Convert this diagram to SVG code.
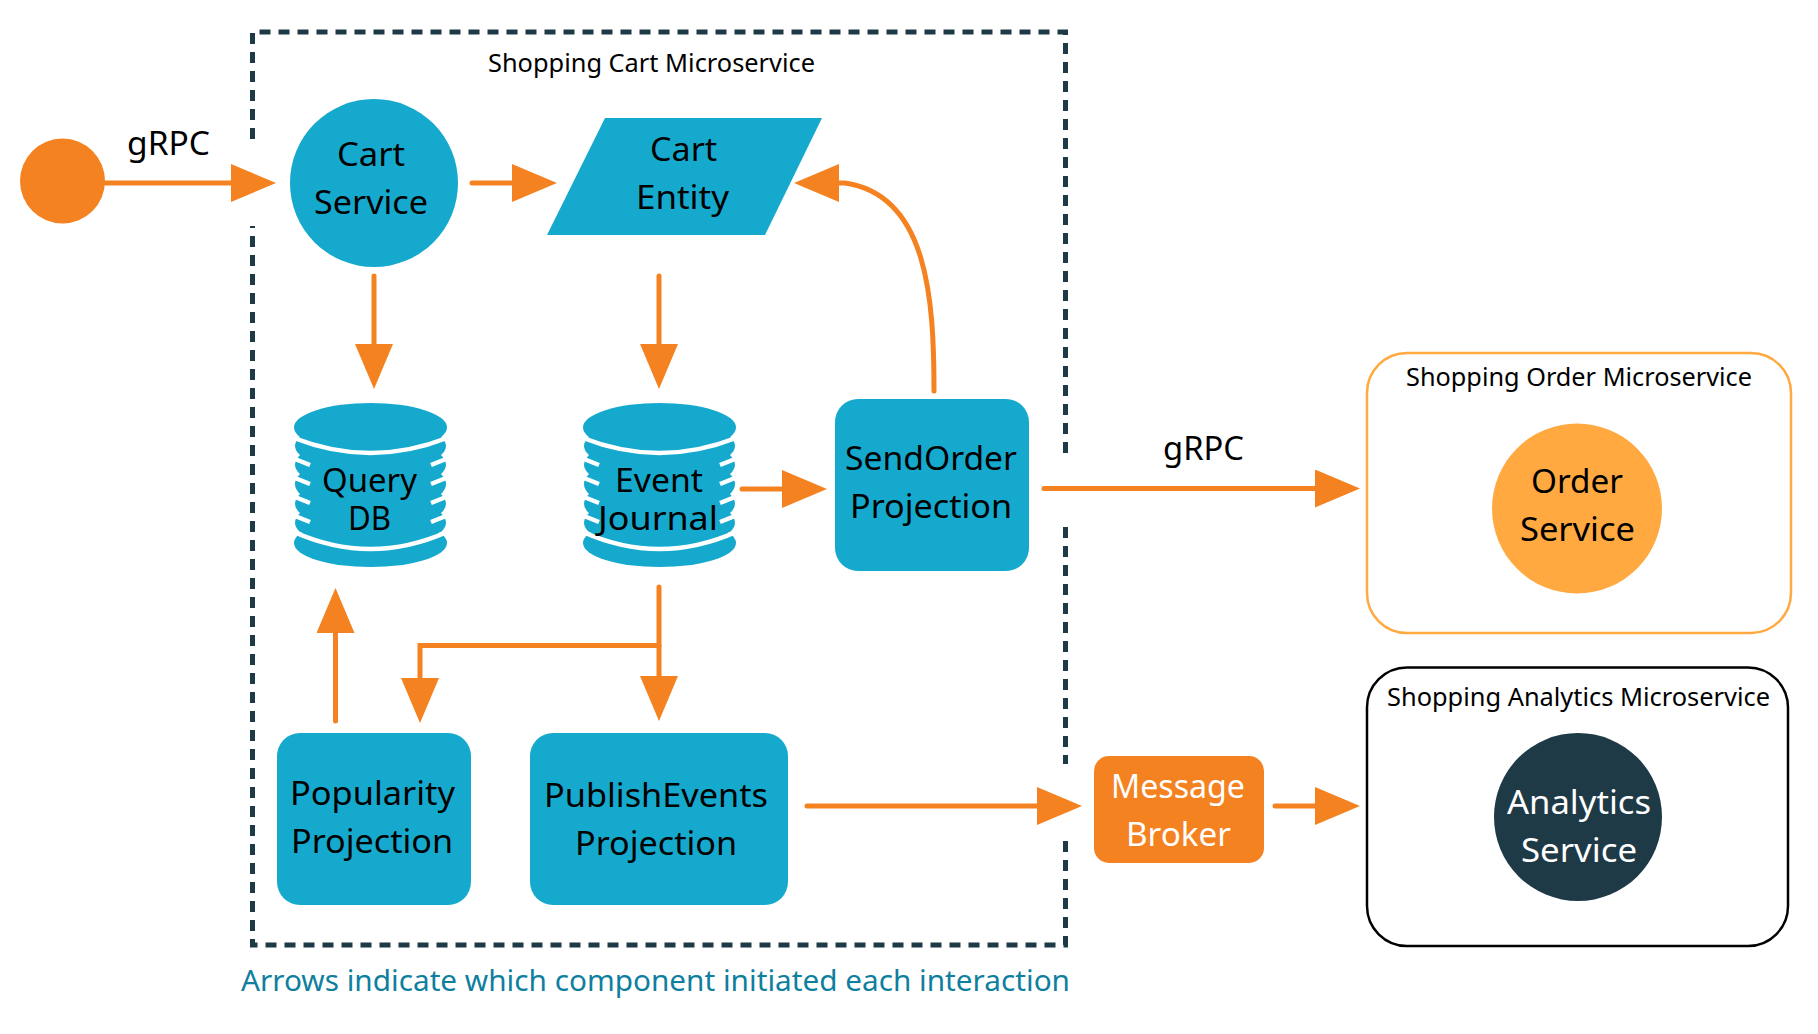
<svg xmlns="http://www.w3.org/2000/svg" width="1818" height="1034" viewBox="0 0 1818 1034">
<style>
text{font-family:"Noto Sans","Open Sans","Liberation Sans",sans-serif;fill:#000}
.l{font-size:33px}
.s{font-size:25px}
.w{fill:#fff}
.n{fill:#16a9ce}
.c{fill:none;stroke:#f58220;stroke-width:5;stroke-linecap:round}
.d{fill:none;stroke:#1f3a47;stroke-width:5;stroke-dasharray:11 8}
.t{fill:none;stroke:#fff;stroke-width:4.500}
</style>
<defs>
<marker id="a" markerUnits="userSpaceOnUse" markerWidth="46" markerHeight="38" refX="25" refY="19" orient="auto"><path d="M0,0L45,19L0,38Z" fill="#f58220"/></marker>
<g id="db">
<path class="n" d="M6,34Q-4,43 6,52Q-4,62 6,71Q-4,81 6,91Q-4,101 6,110Q-4,120 6,129L147,129Q157,120 147,110Q157,101 147,91Q157,81 147,71Q157,62 147,52Q157,43 147,34Z"/>
<ellipse class="n" cx="76.5" cy="140" rx="76.5" ry="24"/>
<ellipse class="n" cx="76.5" cy="24.5" rx="76.5" ry="24.5"/>
<path class="t" d="M0,35Q76.5,65 153,35M0,129Q76.5,163 153,129M1,56L16,62M1,75L16,81M1,94L16,100M1,113L16,119M152,56L137,62M152,75L137,81M152,94L137,100M152,113L137,119"/>
</g>
</defs>
<g id="boundary">
<path class="d" d="M252.500,139V32H1065.500V453M1065.500,527V764M1065.500,841V945H252.500V226"/>
<text class="s" x="488" y="72" textLength="327" lengthAdjust="spacingAndGlyphs">Shopping Cart Microservice</text>
</g>
<g id="connectors">
<path class="c" marker-end="url(#a)" d="M105,183H256"/>
<path class="c" marker-end="url(#a)" d="M472,183H537"/>
<path class="c" marker-end="url(#a)" d="M374,276V369"/>
<path class="c" marker-end="url(#a)" d="M659,276V369"/>
<path class="c" marker-end="url(#a)" d="M934,391C934,300 928,195 845,183H814"/>
<path class="c" marker-end="url(#a)" d="M742,489H807"/>
<path class="c" marker-end="url(#a)" d="M1044,488.500H1340"/>
<path class="c" marker-end="url(#a)" d="M659,587V701"/>
<path class="c" marker-end="url(#a)" d="M659,645.500H420V703"/>
<path class="c" marker-end="url(#a)" d="M335.500,721V608"/>
<path class="c" marker-end="url(#a)" d="M807,806H1062"/>
<path class="c" marker-end="url(#a)" d="M1275,806H1340"/>
<text class="l" x="127" y="155" textLength="83" lengthAdjust="spacingAndGlyphs">gRPC</text>
<text class="l" x="1163" y="460" textLength="81" lengthAdjust="spacingAndGlyphs">gRPC</text>
</g>
<g id="client"><circle cx="62.500" cy="181" r="42.500" fill="#f58220"/></g>
<g id="cart-service"><circle class="n" cx="374" cy="183" r="84"/>
<text class="l" x="337" y="166" textLength="68" lengthAdjust="spacingAndGlyphs">Cart</text>
<text class="l" x="314" y="214" textLength="114" lengthAdjust="spacingAndGlyphs">Service</text></g>
<g id="cart-entity"><path class="n" d="M547,235L605,118H822L765,235Z"/>
<text class="l" x="650" y="161" textLength="67" lengthAdjust="spacingAndGlyphs">Cart</text>
<text class="l" x="636" y="209" textLength="93" lengthAdjust="spacingAndGlyphs">Entity</text></g>
<g id="query-db"><use href="#db" x="294" y="403"/>
<text class="l" x="322" y="492" textLength="95" lengthAdjust="spacingAndGlyphs">Query</text>
<text class="l" x="348" y="530" textLength="43" lengthAdjust="spacingAndGlyphs">DB</text></g>
<g id="event-journal"><use href="#db" x="583" y="403"/>
<text class="l" x="615" y="492" textLength="88" lengthAdjust="spacingAndGlyphs">Event</text>
<text class="l" x="598" y="530" textLength="120" lengthAdjust="spacingAndGlyphs">Journal</text></g>
<g id="sendorder-projection"><rect class="n" x="835" y="399" width="194" height="172" rx="23"/>
<text class="l" x="845" y="470" textLength="172" lengthAdjust="spacingAndGlyphs">SendOrder</text>
<text class="l" x="850" y="518" textLength="162" lengthAdjust="spacingAndGlyphs">Projection</text></g>
<g id="popularity-projection"><rect class="n" x="277" y="733" width="194" height="172" rx="23"/>
<text class="l" x="290" y="805" textLength="165" lengthAdjust="spacingAndGlyphs">Popularity</text>
<text class="l" x="291" y="853" textLength="162" lengthAdjust="spacingAndGlyphs">Projection</text></g>
<g id="publishevents-projection"><rect class="n" x="530" y="733" width="258" height="172" rx="23"/>
<text class="l" x="544" y="807" textLength="224" lengthAdjust="spacingAndGlyphs">PublishEvents</text>
<text class="l" x="575" y="855" textLength="162" lengthAdjust="spacingAndGlyphs">Projection</text></g>
<g id="message-broker"><rect x="1094" y="756" width="170" height="107" rx="15" fill="#f58220"/>
<text class="l w" x="1111" y="798" textLength="134" lengthAdjust="spacingAndGlyphs">Message</text>
<text class="l w" x="1126" y="846" textLength="105" lengthAdjust="spacingAndGlyphs">Broker</text></g>
<g id="order-microservice"><rect x="1367" y="353" width="424" height="280" rx="40" fill="none" stroke="#ffa940" stroke-width="2.500"/>
<text class="s" x="1406" y="386" textLength="346" lengthAdjust="spacingAndGlyphs">Shopping Order Microservice</text>
<circle cx="1577" cy="508.500" r="85" fill="#ffa940"/>
<text class="l" x="1531" y="493" textLength="92" lengthAdjust="spacingAndGlyphs">Order</text>
<text class="l" x="1520" y="541" textLength="115" lengthAdjust="spacingAndGlyphs">Service</text></g>
<g id="analytics-microservice"><rect x="1367" y="667.500" width="421" height="278.500" rx="40" fill="none" stroke="#000" stroke-width="2.500"/>
<text class="s" x="1387" y="706" textLength="383" lengthAdjust="spacingAndGlyphs">Shopping Analytics Microservice</text>
<circle cx="1578" cy="817" r="84" fill="#1f3a47"/>
<text class="l w" x="1507" y="814" textLength="144" lengthAdjust="spacingAndGlyphs">Analytics</text>
<text class="l w" x="1521" y="862" textLength="116" lengthAdjust="spacingAndGlyphs">Service</text></g>
<g id="note"><text class="s" style="fill:#0f7f9f;font-size:29px" x="241" y="991" textLength="829" lengthAdjust="spacingAndGlyphs">Arrows indicate which component initiated each interaction</text></g>
</svg>
